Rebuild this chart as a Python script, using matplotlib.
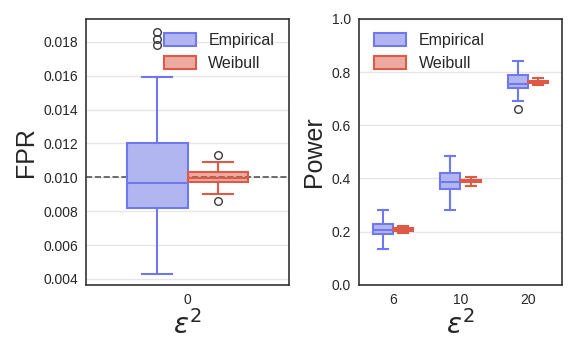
import matplotlib.pyplot as plt
from matplotlib.patches import Patch

# FPR stats at eps^2 = 0
fpr_cats = ['0']
fpr_emp = dict(q1=0.0082, med=0.00965, q3=0.0120, lo=0.0043, hi=0.0159, fl=[0.0178, 0.0182, 0.0186])
fpr_wei = dict(q1=0.0097, med=0.00995, q3=0.0103, lo=0.0090, hi=0.0109, fl=[0.0113, 0.0086])

# Power stats
pow_cats = ['6', '10', '20']
pow_emp_q1 = [0.19, 0.36, 0.74]
pow_emp_med = [0.205, 0.385, 0.755]
pow_emp_q3 = [0.23, 0.42, 0.79]
pow_emp_lo = [0.135, 0.28, 0.69]
pow_emp_hi = [0.28, 0.485, 0.84]
pow_emp_fl = [[], [], [0.66]]
pow_wei_q1 = [0.203, 0.385, 0.758]
pow_wei_med = [0.209, 0.39, 0.762]
pow_wei_q3 = [0.213, 0.395, 0.768]
pow_wei_lo = [0.195, 0.373, 0.75]
pow_wei_hi = [0.222, 0.405, 0.777]

emp_edge = '#7078ee'
emp_face = '#b2b6f0'
wei_edge = '#dc5a46'
wei_face = (0.86, 0.35, 0.27, 0.5)

plt.rcParams['font.family'] = ['Liberation Sans', 'DejaVu Sans']
plt.rcParams['mathtext.fontset'] = 'dejavusans'
fig, (ax1, ax2) = plt.subplots(1, 2, figsize=(5.76, 3.56), dpi=100)
fig.subplots_adjust(left=0.15, right=0.975, top=0.947, bottom=0.2, wspace=0.35)


def draw(ax, stats, pos, edge, face, width=0.3):
    bx = [dict(q1=s['q1'], med=s['med'], q3=s['q3'], whislo=s['lo'], whishi=s['hi'], fliers=s['fl'])
          for s in stats]
    ax.bxp(bx, positions=pos, widths=width, patch_artist=True, manage_ticks=False,
           boxprops=dict(facecolor=face, edgecolor=edge, linewidth=1.5),
           medianprops=dict(color=edge, linewidth=1.5),
           whiskerprops=dict(color=edge, linewidth=1.5),
           capprops=dict(color=edge, linewidth=1.5),
           flierprops=dict(marker='o', markerfacecolor='none', markeredgecolor='#3a3a3a',
                           markersize=5.5, markeredgewidth=1),
           zorder=3)


def style(ax):
    ax.set_axisbelow(True)
    ax.yaxis.grid(True, color='#e6e6e6', linewidth=1)
    for sp in ax.spines.values():
        sp.set_color('#333333')
        sp.set_linewidth(1.2)
    ax.tick_params(length=0, labelsize=10, labelcolor='#262626', pad=6)


# left: FPR
ax1.axhline(0.01, color='#555555', linestyle='--', linewidth=1.2, zorder=2)
draw(ax1, [fpr_emp], [-0.15], emp_edge, emp_face)
draw(ax1, [fpr_wei], [0.15], wei_edge, wei_face)
ax1.set_xlim(-0.5, 0.5)
ax1.set_ylim(0.00365, 0.01936)
ax1.set_xticks(range(len(fpr_cats)))
ax1.set_xticklabels(fpr_cats)
ax1.set_yticks([0.004, 0.006, 0.008, 0.010, 0.012, 0.014, 0.016, 0.018])
ax1.set_ylabel('FPR', fontsize=18, color='#262626')
ax1.set_xlabel(r'$\epsilon^2$', fontsize=20, color='#262626', labelpad=2)
style(ax1)

# right: Power
xs = list(range(len(pow_cats)))
emp_stats = [dict(q1=a, med=b, q3=c, lo=d, hi=e, fl=f) for a, b, c, d, e, f in
             zip(pow_emp_q1, pow_emp_med, pow_emp_q3, pow_emp_lo, pow_emp_hi, pow_emp_fl)]
wei_stats = [dict(q1=a, med=b, q3=c, lo=d, hi=e, fl=[]) for a, b, c, d, e in
             zip(pow_wei_q1, pow_wei_med, pow_wei_q3, pow_wei_lo, pow_wei_hi)]
draw(ax2, emp_stats, [x - 0.15 for x in xs], emp_edge, emp_face)
draw(ax2, wei_stats, [x + 0.15 for x in xs], wei_edge, wei_face)
ax2.set_xlim(-0.5, 2.5)
ax2.set_ylim(0, 1)
ax2.set_xticks(xs)
ax2.set_xticklabels(pow_cats)
ax2.set_yticks([0.0, 0.2, 0.4, 0.6, 0.8, 1.0])
ax2.set_ylabel('Power', fontsize=18, color='#262626')
ax2.set_xlabel(r'$\epsilon^2$', fontsize=20, color='#262626', labelpad=2)
style(ax2)

handles = [Patch(facecolor=emp_face, edgecolor=emp_edge, linewidth=1.5, label='Empirical'),
           Patch(facecolor=wei_face, edgecolor=wei_edge, linewidth=1.5, label='Weibull')]
for ax, loc in [(ax1, 'upper right'), (ax2, 'upper left')]:
    ax.legend(handles=handles, loc=loc, frameon=False, fontsize=11.5, handlelength=2.0,
              handleheight=0.9, labelspacing=0.45, handletextpad=0.8, borderaxespad=0.5,
              labelcolor='#262626')

plt.savefig('out.png', dpi=100)
